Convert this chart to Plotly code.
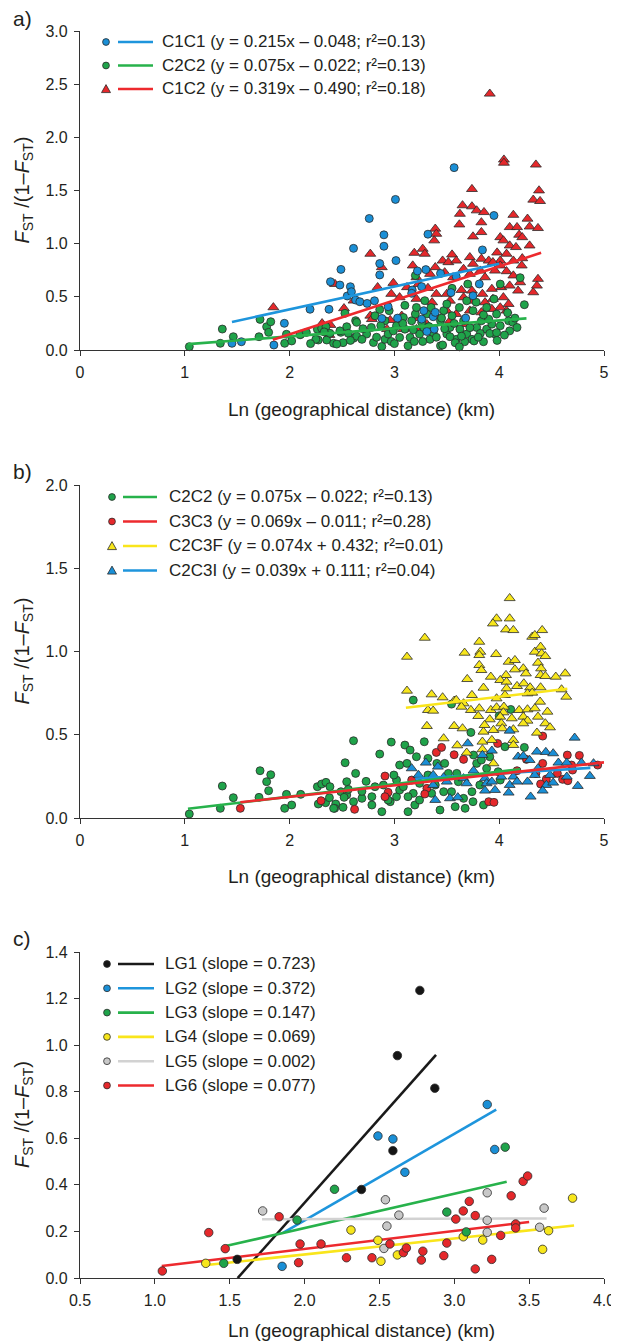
import plotly.graph_objects as go

# ---------------- Panel a data ----------------
a_c1c1 = [(1.45,0.063),(1.54,0.078),(1.85,0.047),(1.95,0.251),(2.195,0.383),(2.376,0.383),(2.39,0.642),(2.48,0.611),
          (2.49,0.758),(2.55,0.508),(2.58,0.595),(2.59,0.548),(2.61,0.956),(2.63,0.47),(3.57,1.715),(3.01,1.416),
          (2.76,1.237),(2.90,1.083),(3.32,1.089),(2.90,0.976),(3.015,0.841),(2.86,0.813),(3.95,1.265),(3.84,0.941),
          (2.86,0.706),(3.22,0.743),(3.30,0.756),(3.44,0.72),(3.59,0.69),(2.67,0.454),(2.74,0.438),(2.81,0.463),
          (2.94,0.407),(3.03,0.30),(2.88,0.297),(3.17,0.564),(3.165,0.533),(3.26,0.596),(3.28,0.37),(3.26,0.29),
          (3.37,0.313),(3.39,0.354),(3.38,0.196),(3.31,0.174),(3.54,0.54),(3.68,0.30),(3.81,0.621),(3.75,0.51)]
a_c2c2 = [(1.043,0.031),(1.339,0.063),(1.358,0.197),(1.463,0.125),(1.708,0.125),(1.718,0.288),(1.781,0.219),(1.82,0.266),
          (1.80,0.166),(1.953,0.063),(2.02,0.085),(1.97,0.148),(2.106,0.148),(2.265,0.195),(2.306,0.204),(2.347,0.219),
          (2.274,0.094),(2.354,0.094),(2.42,0.063),(2.51,0.069),(2.488,0.166),(2.545,0.219),(2.528,0.345),(2.63,0.276),
          (2.61,0.11),(2.56,0.157),(2.385,0.157),(2.64,0.13),(2.10,0.143),(2.25,0.10),(2.16,0.165),(2.48,0.18),(2.64,0.26),
          (2.735,0.15),(2.78,0.212),(2.86,0.38),(2.88,0.033),(2.91,0.10),(2.94,0.15),(2.99,0.18),(3.02,0.228),(3.05,0.118),
          (3.10,0.196),(3.13,0.04),(3.15,0.118),(3.165,0.275),(3.20,0.338),(3.21,0.40),(3.24,0.15),(3.28,0.212),(3.29,0.464),
          (3.34,0.10),(3.37,0.165),(3.44,0.04),(3.44,0.275),(3.47,0.37),(3.50,0.15),(3.53,0.212),(3.55,0.322),(3.59,0.10),
          (3.625,0.196),(3.66,0.275),(3.69,0.15),(3.74,0.10),(3.75,0.37),(3.785,0.212),(3.83,0.275),(3.88,0.196),(3.93,0.243),
          (3.96,0.15),(4.01,0.228),(4.01,0.62),(4.09,0.275),(4.13,0.26),(4.17,0.212),(4.24,0.426),(3.975,0.338),(3.88,0.40),
          (3.69,0.463),(3.50,0.432),(3.31,0.338),(3.085,0.306),(2.91,0.275),(2.815,0.322),(2.69,0.10),(3.2,0.70),(3.7,0.62),
          (3.55,0.58),(4.2,0.68),(2.45,0.056),(2.80,0.07),(2.97,0.08),(3.19,0.08),(3.27,0.08),(3.46,0.047),(3.58,0.069),
          (3.67,0.078),(3.76,0.085),(3.85,0.078),(3.91,0.156),(3.975,0.163),(4.10,0.18),(3.53,0.125),(3.64,0.13),(3.82,0.156),
          (2.20,0.06),(2.33,0.17),(2.58,0.09),(2.70,0.20),(2.83,0.12),(2.87,0.23),(3.00,0.06),(3.08,0.25),(3.18,0.19),
          (3.26,0.26),(3.33,0.22),(3.40,0.12),(3.48,0.20),(3.57,0.25),(3.62,0.03),(3.72,0.21),(3.80,0.12),(3.90,0.29),
          (3.98,0.09),(4.05,0.14),(4.15,0.30),(3.35,0.40),(3.62,0.40),(3.78,0.45),(3.95,0.48),(4.08,0.35),(3.10,0.42),
          (2.95,0.37),(3.45,0.30),(3.85,0.33)]
a_c1c2 = [(1.845,0.401),(2.433,0.620),(2.519,0.392),(2.61,0.464),(2.31,0.251),(2.39,0.235),(2.38,0.141),
          (3.91,2.41),(4.045,1.79),(4.045,1.76),(4.35,1.743),(3.74,1.513),(4.38,1.50),(4.325,1.413),(4.39,1.40),(3.65,1.36),
          (3.74,1.35),(3.785,1.312),(3.855,1.296),(3.625,1.28),(3.62,1.18),(3.83,1.20),(4.135,1.27),(4.10,1.155),(4.17,1.155),
          (4.27,1.234),(4.29,1.16),(4.37,1.146),(3.39,1.14),(3.40,1.092),(3.38,1.03),(3.75,1.067),(3.83,1.108),(4.19,1.083),
          (4.01,1.06),(4.04,1.03),(4.10,0.982),(4.22,1.06),(4.29,0.982),(2.77,0.904),(3.19,0.913),(3.27,0.951),(3.29,0.904),
          (3.55,0.897),(3.46,0.84),(3.515,0.825),(3.59,0.84),(3.72,0.872),(3.75,0.81),(3.83,0.857),(3.90,0.84),(3.98,0.916),
          (4.01,0.84),(4.07,0.904),(4.135,0.84),(4.22,0.862),(4.16,0.967),(3.94,0.825),(3.175,0.794),(3.34,0.715),(3.39,0.778),
          (3.48,0.73),(3.56,0.683),(3.66,0.762),(3.72,0.715),(3.82,0.746),(3.865,0.683),(3.96,0.746),(4.01,0.794),(4.07,0.74),
          (4.135,0.70),(4.215,0.794),(4.37,0.668),(4.325,0.542),(4.36,0.605),(2.99,0.63),(2.84,0.59),(3.12,0.59),(3.23,0.62),
          (3.32,0.583),(3.40,0.527),(3.50,0.527),(3.64,0.564),(3.74,0.558),(3.84,0.527),(3.93,0.574),(4.02,0.59),(4.10,0.605),
          (4.18,0.558),(4.20,0.636),(2.97,0.527),(3.05,0.495),(3.21,0.48),(3.36,0.448),(3.53,0.463),(3.66,0.495),(3.75,0.463),
          (3.865,0.448),(3.94,0.48),(4.04,0.495),(4.09,0.432),(4.07,0.37),(4.01,0.40),(2.77,0.322),(2.785,0.29),(2.96,0.281),
          (3.07,0.322),(3.21,0.30),(3.40,0.322),(3.50,0.37),(3.59,0.338),(3.72,0.37),(3.83,0.354),(3.93,0.385),(2.93,0.196),
          (3.085,0.196),(3.21,0.196),(3.31,0.243),(3.53,0.275),(3.69,0.243),(2.88,0.778),(3.21,0.683)]
a_names = ["C1C1 (y = 0.215x \u2013 0.048; r\u00b2=0.13)",
           "C2C2 (y = 0.075x \u2013 0.022; r\u00b2=0.13)",
           "C1C2 (y = 0.319x \u2013 0.490; r\u00b2=0.18)"]
a_slopes = [0.215, 0.075, 0.319]
a_inters = [-0.048, -0.022, -0.490]
a_xrange = [(1.45, 4.0), (1.03, 4.26), (1.84, 4.40)]

# ---------------- Panel b data ----------------
b_c2c2 = [(1.043,0.024),(1.339,0.058),(1.358,0.192),(1.463,0.122),(1.708,0.124),(1.718,0.284),(1.781,0.218),(1.82,0.26),
          (1.80,0.164),(1.953,0.058),(2.02,0.078),(1.97,0.142),(2.106,0.142),(2.265,0.188),(2.306,0.204),(2.347,0.214),
          (2.385,0.188),(2.274,0.084),(2.344,0.092),(2.38,0.122),(2.44,0.084),(2.43,0.058),(2.51,0.064),(2.49,0.158),
          (2.545,0.218),(2.53,0.332),(2.61,0.464),(2.63,0.268),(2.61,0.098),(2.545,0.138),(2.56,0.172),(2.52,0.124),
          (2.97,0.456),(3.285,0.458),(3.10,0.438),(2.86,0.384),(3.15,0.408),(3.21,0.368),(3.18,0.708),(3.545,0.684),
          (4.11,0.652),(4.00,0.614),(3.73,0.514),(4.055,0.428),(4.24,0.424),(2.42,0.058),(2.69,0.118),(2.785,0.128),
          (2.785,0.078),(2.88,0.038),(2.96,0.098),(3.02,0.128),(3.05,0.168),(3.02,0.228),(2.995,0.258),(3.05,0.318),
          (3.12,0.328),(3.13,0.038),(3.195,0.078),(3.24,0.108),(3.18,0.148),(3.24,0.208),(3.32,0.258),(3.32,0.358),
          (3.405,0.328),(3.48,0.328),(3.515,0.268),(3.435,0.048),(3.47,0.158),(3.545,0.158),(3.58,0.068),(3.66,0.118),
          (3.675,0.058),(3.74,0.158),(3.75,0.098),(3.785,0.328),(3.755,0.378),(3.83,0.348),(3.91,0.368),(3.88,0.298),
          (3.99,0.278),(4.01,0.228),(3.85,0.078),(3.815,0.198),(3.595,0.268),(3.355,0.148),(3.39,0.198),(3.61,0.218),
          (2.815,0.188),(2.895,0.198),(2.94,0.108),(3.085,0.188),(3.13,0.128),(2.69,0.16),(2.73,0.22)]
b_c3c3 = [(1.53,0.058),(2.30,0.104),(2.62,0.052),(4.415,0.492),(3.985,0.448),(3.40,0.394),(3.45,0.424),(3.57,0.38),
          (3.66,0.352),(4.65,0.378),(4.765,0.376),(4.26,0.352),(4.415,0.328),(4.17,0.284),(4.35,0.268),(4.45,0.234),
          (4.555,0.268),(4.605,0.232),(4.655,0.224),(4.69,0.318),(4.70,0.288),(4.94,0.318),(4.395,0.204),(2.91,0.252),
          (3.165,0.228),(3.31,0.178),(3.29,0.144),(2.94,0.154),(2.91,0.128),(3.90,0.098),(3.95,0.094)]
b_c2c3f = [(4.10,1.32),(3.975,1.198),(4.10,1.198),(3.94,1.168),(4.065,1.132),(4.135,1.128),(4.41,1.128),(4.315,1.088),
           (4.34,1.098),(3.29,1.082),(3.81,1.058),(3.82,0.998),(3.81,0.978),(3.67,0.992),(3.97,0.984),(3.12,0.968),
           (4.34,0.998),(4.395,1.028),(4.405,0.988),(4.44,0.972),(4.09,0.938),(4.15,0.948),(3.81,0.918),(3.83,0.888),
           (4.23,0.898),(4.37,0.932),(4.40,0.898),(4.395,0.858),(4.44,0.852),(4.15,0.892),(4.255,0.868),(4.065,0.858),
           (3.92,0.848),(3.695,0.834),(4.01,0.828),(4.07,0.818),(4.54,0.848),(4.63,0.868),(3.85,0.782),(4.07,0.778),
           (4.17,0.792),(4.235,0.808),(4.295,0.784),(4.395,0.784),(4.595,0.772),(3.12,0.764),(3.355,0.742),(3.46,0.724),
           (3.74,0.738),(3.975,0.718),(4.055,0.738),(4.27,0.748),(4.315,0.752),(4.64,0.728),(3.57,0.704),(3.66,0.688),
           (3.59,0.708),(4.39,0.698),(3.64,0.668),(3.73,0.648),(3.81,0.658),(3.92,0.648),(3.975,0.664),(4.045,0.668),
           (4.04,0.634),(4.19,0.648),(4.27,0.652),(4.34,0.658),(4.46,0.638),(3.32,0.648),(3.37,0.644),(3.80,0.612),
           (3.91,0.592),(4.01,0.608),(4.12,0.598),(4.23,0.608),(4.37,0.608),(4.27,0.584),(3.86,0.558),(4.02,0.568),
           (4.23,0.568),(4.44,0.568),(4.485,0.544),(3.31,0.552),(3.57,0.552),(3.65,0.538),(3.85,0.518),(3.945,0.528),
           (4.03,0.538),(4.135,0.532),(4.36,0.512),(3.47,0.478),(3.84,0.458),(3.93,0.468),(4.135,0.468),(3.60,0.436),
           (4.135,0.438),(3.69,0.392),(3.84,0.412),(3.945,0.328)]
b_c2c3i = [(4.10,0.524),(4.72,0.482),(3.70,0.448),(3.84,0.378),(3.93,0.404),(4.18,0.368),(4.36,0.398),(4.445,0.396),
           (4.515,0.388),(4.23,0.372),(4.29,0.348),(3.30,0.332),(3.415,0.308),(3.755,0.284),(4.565,0.332),(4.645,0.332),
           (4.785,0.332),(4.90,0.328),(3.165,0.298),(3.23,0.258),(3.37,0.258),(3.47,0.244),(3.66,0.238),(3.865,0.238),
           (4.02,0.248),(4.135,0.248),(4.34,0.258),(4.37,0.298),(4.485,0.258),(4.645,0.248),(4.865,0.252),(3.37,0.198),
           (3.50,0.218),(3.69,0.208),(3.88,0.208),(3.93,0.218),(4.10,0.198),(4.17,0.218),(4.27,0.218),(4.45,0.198),
           (4.515,0.212),(4.75,0.192),(3.39,0.108),(3.53,0.118),(3.605,0.124),(3.865,0.164),(3.96,0.168),(4.09,0.152),
           (4.415,0.164),(4.30,0.128)]
b_names = ["C2C2 (y = 0.075x \u2013 0.022; r\u00b2=0.13)",
           "C3C3 (y = 0.069x \u2013 0.011; r\u00b2=0.28)",
           "C2C3F (y = 0.074x + 0.432; r\u00b2=0.01)",
           "C2C3I (y = 0.039x + 0.111; r\u00b2=0.04)"]
b_slopes = [0.075, 0.069, 0.074, 0.039]
b_inters = [-0.022, -0.011, 0.432, 0.111]
b_xrange = [(1.03, 4.2), (1.53, 5.0), (3.11, 4.65), (3.2, 4.87)]

# ---------------- Panel c data ----------------
c_lg1 = [(1.55,0.08),(2.38,0.38),(2.59,0.547),(2.62,0.955),(2.77,1.235),(2.87,0.815)]
c_lg2 = [(1.85,0.05),(2.49,0.61),(2.59,0.597),(2.67,0.454),(3.22,0.745),(3.27,0.552)]
c_lg3 = [(1.46,0.063),(1.95,0.249),(2.20,0.381),(2.95,0.283),(3.08,0.198),(3.34,0.562)]
c_lg4 = [(1.34,0.063),(2.31,0.206),(2.49,0.162),(2.51,0.072),(2.62,0.099),(3.06,0.177),(3.19,0.163),(3.59,0.123),
         (3.63,0.203),(3.79,0.343)]
c_lg5 = [(1.72,0.288),(2.53,0.127),(2.54,0.336),(2.55,0.223),(2.63,0.270),(3.22,0.366),(3.22,0.248),(3.22,0.196),
         (3.57,0.218),(3.60,0.300)]
c_lg6 = [(1.05,0.030),(1.36,0.195),(1.47,0.126),(1.83,0.263),(1.96,0.066),(1.97,0.146),(2.11,0.146),(2.28,0.087),
         (2.45,0.087),(2.57,0.146),(2.66,0.109),(2.68,0.129),(2.78,0.077),(2.79,0.115),(2.93,0.096),(2.95,0.150),
         (3.01,0.253),(3.06,0.288),(3.10,0.329),(3.14,0.268),(3.14,0.039),(3.25,0.080),(3.31,0.183),(3.38,0.353),
         (3.41,0.232),(3.41,0.215),(3.46,0.415),(3.49,0.438)]
c_names = ["LG1 (slope = 0.723)", "LG2 (slope = 0.372)", "LG3 (slope = 0.147)",
           "LG4 (slope = 0.069)", "LG5 (slope = 0.002)", "LG6 (slope = 0.077)"]
c_slopes = [0.723, 0.372, 0.147, 0.069, 0.002, 0.077]
c_inters = [-1.123, -0.497, -0.0795, -0.037, 0.2486, -0.029]
c_xrange = [(1.553, 2.878), (1.856, 3.28), (1.473, 3.35), (1.346, 3.8), (1.716, 3.617), (1.046, 3.5)]

# ---------------- styles ----------------
BLUE, GREEN, RED, YEL, GRAY, BLK = "#1a8fd6", "#1fa34a", "#e5282b", "#f7e61c", "#c8c8c8", "#151515"
LBLUE, LGREEN, LRED, LYEL, LGRAY, LBLK = "#1e95dc", "#27b24b", "#ed2a2e", "#f9e51b", "#d2d2d2", "#1a1a1a"
EDGE = "#2b2b2b"
TXT = "#231f20"
FONT = "Liberation Sans, Arial, sans-serif"

fig = go.Figure()


def add_pts(pts, color, symbol, size, xa, ya):
    fig.add_trace(go.Scatter(x=[p[0] for p in pts], y=[p[1] for p in pts], mode="markers",
                             marker=dict(color=color, symbol=symbol, size=size,
                                         line=dict(color=EDGE, width=0.8)),
                             xaxis=xa, yaxis=ya, showlegend=False, cliponaxis=False, hoverinfo="x+y"))


def add_line(slope, inter, xr, color, xa, ya):
    xv = [xr[0], xr[1]]
    yv = [slope * v + inter for v in xv]
    fig.add_trace(go.Scatter(x=xv, y=yv, mode="lines", line=dict(color=color, width=2.6),
                             xaxis=xa, yaxis=ya, showlegend=False, hoverinfo="skip"))


# panel a
add_pts(a_c1c2, RED, "triangle-up", 9.5, "x", "y")
add_pts(a_c2c2, GREEN, "circle", 8, "x", "y")
add_pts(a_c1c1, BLUE, "circle", 8, "x", "y")
add_line(a_slopes[1], a_inters[1], a_xrange[1], LGREEN, "x", "y")
add_line(a_slopes[2], a_inters[2], a_xrange[2], LRED, "x", "y")
add_line(a_slopes[0], a_inters[0], a_xrange[0], LBLUE, "x", "y")

# panel b
add_pts(b_c2c2, GREEN, "circle", 8, "x2", "y2")
add_pts(b_c3c3, RED, "circle", 8, "x2", "y2")
add_pts(b_c2c3f, YEL, "triangle-up", 9.5, "x2", "y2")
add_pts(b_c2c3i, BLUE, "triangle-up", 9.5, "x2", "y2")
add_line(b_slopes[2], b_inters[2], b_xrange[2], LYEL, "x2", "y2")
add_line(b_slopes[3], b_inters[3], b_xrange[3], LBLUE, "x2", "y2")
add_line(b_slopes[0], b_inters[0], b_xrange[0], LGREEN, "x2", "y2")
add_line(b_slopes[1], b_inters[1], b_xrange[1], LRED, "x2", "y2")

# panel c
c_pts = [c_lg1, c_lg2, c_lg3, c_lg4, c_lg5, c_lg6]
c_cols = [BLK, BLUE, GREEN, YEL, GRAY, RED]
c_lcols = [LBLK, LBLUE, LGREEN, LYEL, LGRAY, LRED]
for i in [0, 1, 2, 3, 4, 5]:
    add_line(c_slopes[i], c_inters[i], c_xrange[i], c_lcols[i], "x3", "y3")
for i in [4, 3, 5, 2, 1, 0]:
    add_pts(c_pts[i], c_cols[i], "circle", 8.5, "x3", "y3")

# ---------------- layout helpers (page pixel -> paper) ----------------
# The page body has an 8px default margin, so the figure is 8px smaller and offset.
OFF = 8
L, R, T, B = 72, 15, 23, 64
W, H = 619 - OFF, 1342 - OFF
PW, PH = W - L - R, H - T - B


def px(p):
    return (p - OFF - L) / PW


def py(p):
    return (H - B - (p - OFF)) / PH


shapes, annos = [], []


def legend_row(marker, color, lcolor, text, mx, l0, l1, tx, ry):
    if marker == "circle":
        shapes.append(dict(type="circle", xref="paper", yref="paper", xsizemode="pixel", ysizemode="pixel",
                           xanchor=px(mx), yanchor=py(ry), x0=-3.4, x1=3.4, y0=-3.4, y1=3.4,
                           fillcolor=color, line=dict(color=EDGE, width=0.8)))
    else:
        shapes.append(dict(type="path", xref="paper", yref="paper", xsizemode="pixel", ysizemode="pixel",
                           xanchor=px(mx), yanchor=py(ry), path="M -4.5,-3.6 L 4.5,-3.6 L 0,4.4 Z",
                           fillcolor=color, line=dict(color=EDGE, width=0.8)))
    shapes.append(dict(type="line", xref="paper", yref="paper", x0=px(l0), x1=px(l1), y0=py(ry), y1=py(ry),
                       line=dict(color=lcolor, width=2.6)))
    annos.append(dict(text=text, x=px(tx), y=py(ry), xref="paper", yref="paper", xanchor="left",
                      yanchor="middle", showarrow=False, font=dict(size=17, color=TXT, family=FONT)))


a_leg = [("circle", BLUE, LBLUE), ("circle", GREEN, LGREEN), ("triangle", RED, LRED)]
for i, (m, c, lc) in enumerate(a_leg):
    legend_row(m, c, lc, a_names[i], 106, 118, 153, 160, [42, 65.5, 89][i])

b_leg = [("circle", GREEN, LGREEN), ("circle", RED, LRED), ("triangle", YEL, LYEL), ("triangle", BLUE, LBLUE)]
for i, (m, c, lc) in enumerate(b_leg):
    legend_row(m, c, lc, b_names[i], 112, 123, 157, 167, [497, 521.5, 546, 570.5][i])

for i in range(6):
    legend_row("circle", c_cols[i], c_lcols[i], c_names[i], 107, 118, 154, 163,
               [964, 988.3, 1012.6, 1036.9, 1061.2, 1085.5][i])

ytitle = "<i>F</i><sub>ST</sub> /(1\u2013<i>F</i><sub>ST</sub>)"
xtitle = "Ln (geographical distance) (km)"
for top, bot, xt_y, lab, lab_y in [(31, 350, 410, "a)", 19), (485, 818, 876, "b)", 471), (952, 1278, 1330, "c)", 938)]:
    annos.append(dict(text=ytitle, x=px(23), y=py((top + bot) / 2), xref="paper", yref="paper",
                      textangle=-90, showarrow=False, xanchor="center", yanchor="middle",
                      font=dict(size=20, color=TXT, family=FONT)))
    annos.append(dict(text=xtitle, x=px(361), y=py(xt_y), xref="paper", yref="paper",
                      showarrow=False, xanchor="center", yanchor="middle",
                      font=dict(size=19, color=TXT, family=FONT)))
    annos.append(dict(text=lab, x=px(11), y=py(lab_y), xref="paper", yref="paper",
                      showarrow=False, xanchor="left", yanchor="middle",
                      font=dict(size=21, color=TXT, family=FONT)))

axis_style = dict(showline=True, linecolor="#333333", linewidth=1.3, ticks="outside", ticklen=5, tickwidth=1.3,
                  tickcolor="#333333", showgrid=False, zeroline=False, automargin=False,
                  tickfont=dict(size=16, color=TXT, family=FONT))

fig.update_layout(
    width=W, height=H, margin=dict(l=L, r=R, t=T, b=B),
    paper_bgcolor="white", plot_bgcolor="white", showlegend=False,
    font=dict(family=FONT, color=TXT),
    shapes=shapes, annotations=annos,
    xaxis=dict(axis_style, domain=[0, 1], range=[0, 5], tickvals=[0, 1, 2, 3, 4, 5], anchor="y",
               ticklabelstandoff=3),
    yaxis=dict(axis_style, domain=[py(350), py(31)], range=[0, 3], tickvals=[0, 0.5, 1, 1.5, 2, 2.5, 3],
               tickformat=".1f", anchor="x", ticklabelstandoff=3),
    xaxis2=dict(axis_style, domain=[0, 1], range=[0, 5], tickvals=[0, 1, 2, 3, 4, 5], anchor="y2",
                ticklabelstandoff=3),
    yaxis2=dict(axis_style, domain=[py(818), py(485)], range=[0, 2], tickvals=[0, 0.5, 1, 1.5, 2],
                tickformat=".1f", anchor="x2", ticklabelstandoff=3),
    xaxis3=dict(axis_style, domain=[0, 1], range=[0.5, 4.0], tickvals=[0.5, 1, 1.5, 2, 2.5, 3, 3.5, 4],
                tickformat=".1f", anchor="y3", ticklabelstandoff=3),
    yaxis3=dict(axis_style, domain=[0, py(952)], range=[0, 1.4], tickvals=[0, 0.2, 0.4, 0.6, 0.8, 1.0, 1.2, 1.4],
                tickformat=".1f", anchor="x3", ticklabelstandoff=3),
)

fig.write_html("out.html")
